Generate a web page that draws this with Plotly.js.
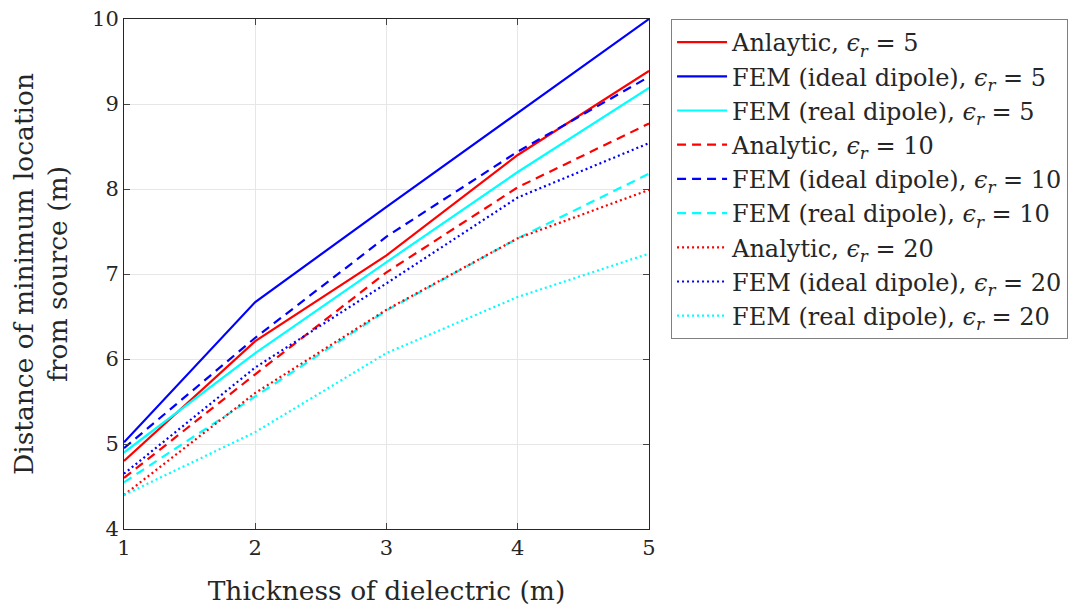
<!DOCTYPE html>
<html>
<head>
<meta charset="utf-8">
<script src="https://cdn.plot.ly/plotly-3.0.1.min.js"></script>
<style>html,body{margin:0;padding:0;background:#fff;}#chart{width:1085px;height:612px;}</style>
</head>
<body>
<div id="chart"></div>
<script>
const thickness = [1, 2, 3, 4, 5];
const analytic5   = [4.80, 6.21, 7.22, 8.40, 9.39];
const femIdeal5   = [5.02, 6.67, 7.79, 8.90, 10.00];
const femReal5    = [4.90, 6.07, 7.14, 8.20, 9.19];
const analytic10  = [4.60, 5.82, 7.02, 8.02, 8.77];
const femIdeal10  = [4.95, 6.25, 7.44, 8.44, 9.32];
const femReal10   = [4.55, 5.56, 6.57, 7.42, 8.18];
const analytic20  = [4.40, 5.60, 6.58, 7.42, 7.99];
const femIdeal20  = [4.65, 5.90, 6.89, 7.90, 8.54];
const femReal20   = [4.40, 5.14, 6.07, 6.73, 7.24];

const names = [
  'Anlaytic, <i>ϵ<sub>r</sub></i> = 5',
  'FEM (ideal dipole), <i>ϵ<sub>r</sub></i> = 5',
  'FEM (real dipole), <i>ϵ<sub>r</sub></i> = 5',
  'Analytic, <i>ϵ<sub>r</sub></i> = 10',
  'FEM (ideal dipole), <i>ϵ<sub>r</sub></i> = 10',
  'FEM (real dipole), <i>ϵ<sub>r</sub></i> = 10',
  'Analytic, <i>ϵ<sub>r</sub></i> = 20',
  'FEM (ideal dipole), <i>ϵ<sub>r</sub></i> = 20',
  'FEM (real dipole), <i>ϵ<sub>r</sub></i> = 20'
];
const series = [analytic5, femIdeal5, femReal5, analytic10, femIdeal10, femReal10, analytic20, femIdeal20, femReal20];
const colors = ['#ff0000', '#0000ff', '#00ffff'];
const dashes = ['solid', '9px,6px', '2px,3px'];

const traces = series.map((ys, i) => ({
  x: thickness, y: ys, type: 'scatter', mode: 'lines', name: names[i],
  line: {color: colors[i % 3], width: 2.2, dash: dashes[Math.floor(i / 3)]}
}));

const fam = '"DejaVu Serif", serif';
const col = '#262626';
const layout = {
  width: 1085, height: 612,
  margin: {l: 124, r: 436, t: 19, b: 83},
  paper_bgcolor: '#fff', plot_bgcolor: '#fff',
  font: {family: fam, size: 20, color: col},
  showlegend: true,
  legend: {
    x: 1.042, y: 1, xanchor: 'left', yanchor: 'top',
    bordercolor: '#808080', borderwidth: 1, bgcolor: '#fff',
    font: {family: fam, size: 24, color: col},
    itemwidth: 50, tracegroupgap: 0
  },
  xaxis: {
    range: [1, 5], tickvals: [1, 2, 3, 4, 5], ticks: 'inside', ticklen: 6,
    showline: true, mirror: 'ticks', linecolor: col, linewidth: 1,
    showgrid: true, gridcolor: '#e6e6e6', zeroline: false,
    tickfont: {family: fam, size: 21, color: col},
    title: {text: 'Thickness of dielectric (m)', font: {family: fam, size: 26.5, color: col}, standoff: 22}
  },
  yaxis: {
    range: [4, 10], tickvals: [4, 5, 6, 7, 8, 9, 10], ticks: 'inside', ticklen: 6,
    showline: true, mirror: 'ticks', linecolor: col, linewidth: 1,
    showgrid: true, gridcolor: '#e6e6e6', zeroline: false,
    tickfont: {family: fam, size: 21, color: col},
    title: {text: 'Distance of minimum location<br>from source (m)', font: {family: fam, size: 26.5, color: col}, standoff: 16}
  }
};
Plotly.newPlot('chart', traces, layout, {displayModeBar: false, staticPlot: true});
</script>
</body>
</html>
